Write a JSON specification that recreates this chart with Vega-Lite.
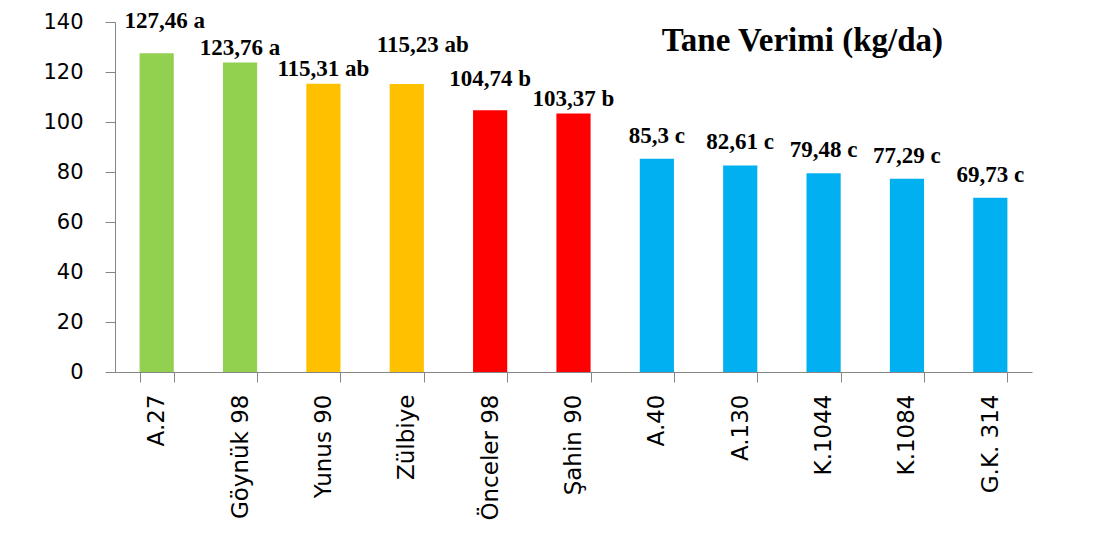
{
  "$schema": "https://vega.github.io/schema/vega-lite/v6.json",
  "width": 917,
  "height": 350,
  "autosize": {"type": "none"},
  "padding": {"left": 115, "top": 22, "right": 64, "bottom": 173},
  "background": "white",
  "config": {"view": {"stroke": null}},
  "title": {
    "text": "Tane Verimi (kg/da)",
    "anchor": "end",
    "frame": "group",
    "orient": "top",
    "offset": -74,
    "dx": -89,
    "baseline": "alphabetic",
    "font": "Liberation Serif",
    "fontSize": 33,
    "fontWeight": "bold",
    "color": "black"
  },
  "data": {
    "values": [
      {"cultivar": "A.27", "yield": 127.46, "group": "a"},
      {"cultivar": "Göynük 98", "yield": 123.76, "group": "a"},
      {"cultivar": "Yunus 90", "yield": 115.31, "group": "ab"},
      {"cultivar": "Zülbiye", "yield": 115.23, "group": "ab"},
      {"cultivar": "Önceler 98", "yield": 104.74, "group": "b"},
      {"cultivar": "Şahin 90", "yield": 103.37, "group": "b"},
      {"cultivar": "A.40", "yield": 85.3, "group": "c"},
      {"cultivar": "A.130", "yield": 82.61, "group": "c"},
      {"cultivar": "K.1044", "yield": 79.48, "group": "c"},
      {"cultivar": "K.1084", "yield": 77.29, "group": "c"},
      {"cultivar": "G.K. 314", "yield": 69.73, "group": "c"}
    ]
  },
  "transform": [
    {"calculate": "replace(toString(datum.yield), '.', ',') + ' ' + datum.group", "as": "label"}
  ],
  "encoding": {
    "x": {
      "field": "cultivar",
      "type": "nominal",
      "sort": null,
      "scale": {"paddingInner": 0.59, "paddingOuter": 0.295},
      "axis": {
        "title": null,
        "labelAngle": -90,
        "labelFont": "DejaVu Sans",
        "labelFontSize": 23,
        "labelColor": "black",
        "labelPadding": 12,
        "labelLimit": 0,
        "tickBand": "extent",
        "tickSize": 10,
        "tickColor": "#868686",
        "domainColor": "#868686",
        "grid": false
      }
    },
    "y": {
      "field": "yield",
      "type": "quantitative",
      "scale": {"domain": [0, 140], "nice": false},
      "axis": {
        "title": null,
        "values": [0, 20, 40, 60, 80, 100, 120, 140],
        "grid": false,
        "tickSize": 10,
        "labelPadding": 22,
        "labelFont": "DejaVu Sans",
        "labelFontSize": 21,
        "labelColor": "black",
        "tickColor": "#868686",
        "domainColor": "#868686"
      }
    }
  },
  "layer": [
    {
      "mark": {"type": "bar"},
      "encoding": {
        "color": {
          "field": "group",
          "type": "nominal",
          "scale": {"domain": ["a", "ab", "b", "c"], "range": ["#92D050", "#FFC000", "#FF0000", "#00B0F0"]},
          "legend": null
        }
      }
    },
    {
      "transform": [{"filter": {"field": "cultivar", "oneOf": ["Göynük 98", "Yunus 90", "Şahin 90"]}}],
      "mark": {"type": "text", "dy": -8, "baseline": "alphabetic", "align": "center", "font": "Liberation Serif", "fontSize": 23, "fontWeight": "bold", "color": "black"},
      "encoding": {"text": {"field": "label"}}
    },
    {
      "transform": [{"filter": {"field": "group", "equal": "c"}}],
      "mark": {"type": "text", "dy": -16, "baseline": "alphabetic", "align": "center", "font": "Liberation Serif", "fontSize": 23, "fontWeight": "bold", "color": "black"},
      "encoding": {"text": {"field": "label"}}
    },
    {
      "transform": [{"filter": {"field": "cultivar", "equal": "A.27"}}],
      "mark": {"type": "text", "dy": -25, "dx": 8, "baseline": "alphabetic", "align": "center", "font": "Liberation Serif", "fontSize": 23, "fontWeight": "bold", "color": "black"},
      "encoding": {"text": {"field": "label"}}
    },
    {
      "transform": [{"filter": {"field": "cultivar", "equal": "Zülbiye"}}],
      "mark": {"type": "text", "dy": -32, "dx": 16, "baseline": "alphabetic", "align": "center", "font": "Liberation Serif", "fontSize": 23, "fontWeight": "bold", "color": "black"},
      "encoding": {"text": {"field": "label"}}
    },
    {
      "transform": [{"filter": {"field": "cultivar", "equal": "Önceler 98"}}],
      "mark": {"type": "text", "dy": -24, "baseline": "alphabetic", "align": "center", "font": "Liberation Serif", "fontSize": 23, "fontWeight": "bold", "color": "black"},
      "encoding": {"text": {"field": "label"}}
    }
  ]
}
